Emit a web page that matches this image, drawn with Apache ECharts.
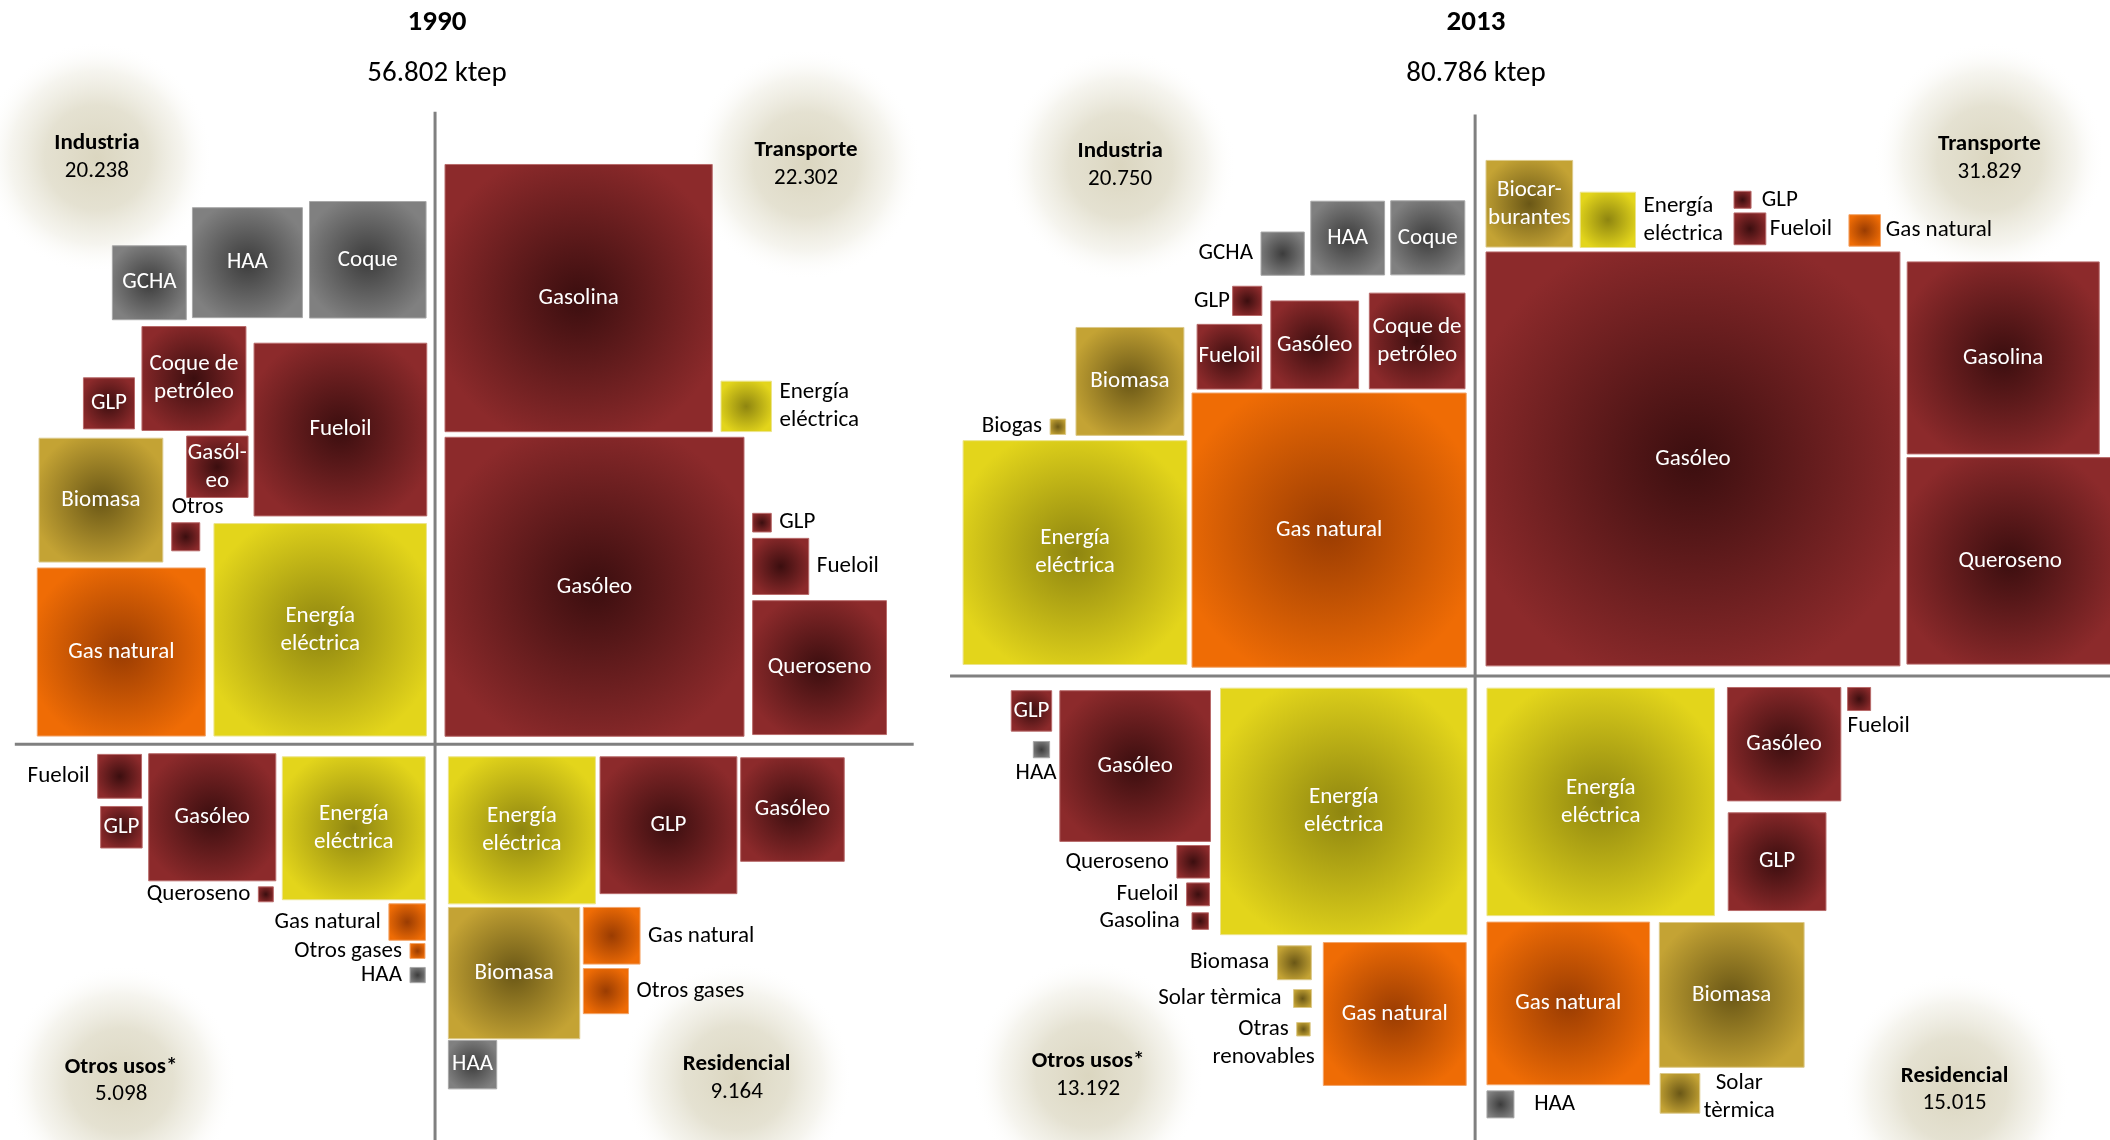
<!DOCTYPE html>
<html><head><meta charset="utf-8">
<script src="https://cdn.jsdelivr.net/npm/echarts@6/dist/echarts.min.js"></script>
<style>html,body{margin:0;padding:0;background:#fff}#c{width:2110px;height:1140px}</style>
</head><body><div id="c"></div>
<script>
// ================= DATA (ktep) =================
const years = ['1990', '2013'];
const sectors = ['Industria', 'Transporte', 'Otros usos*', 'Residencial'];

const ind1990Fuels = ['GCHA','HAA','Coque','Coque de petróleo','GLP','Fueloil','Gasóleo','Otros','Biomasa','Gas natural','Energía eléctrica'];
const ind1990Ktep  = [660, 1460, 1640, 1305, 315, 3600, 455, 95, 1850, 3410, 5448];

const tra1990Fuels = ['Gasolina','Gasóleo','Energía eléctrica','GLP','Fueloil','Queroseno'];
const tra1990Ktep  = [8620, 10790, 307, 42, 380, 2163];

const otr1990Fuels = ['Fueloil','GLP','Gasóleo','Queroseno','Energía eléctrica','Gas natural','Otros gases','HAA'];
const otr1990Ktep  = [232, 208, 1950, 27, 2465, 161, 27, 28];

const res1990Fuels = ['Energía eléctrica','GLP','Gasóleo','Biomasa','Gas natural','Otros gases','HAA'];
const res1990Ktep  = [2610, 2260, 1295, 2083, 388, 246, 282];

const ind2013Fuels = ['GCHA','HAA','Coque','GLP','Fueloil','Gasóleo','Coque de petróleo','Gas natural','Biomasa','Biogas','Energía eléctrica'];
const ind2013Ktep  = [226, 657, 662, 103, 506, 930, 1105, 9077, 1406, 29, 6049];

const tra2013Fuels = ['Biocarburantes','Energía eléctrica','GLP','Fueloil','Gas natural','Gasóleo','Gasolina','Queroseno'];
const tra2013Ktep  = [906, 369, 35, 122, 120, 20680, 4450, 5147];

const otr2013Fuels = ['GLP','HAA','Gasóleo','Queroseno','Fueloil','Gasolina','Energía eléctrica','Biomasa','Solar tèrmica','Otras renovables','Gas natural'];
const otr2013Ktep  = [197, 32, 2740, 128, 63, 33, 7335, 139, 39, 22, 2464];

const res2013Fuels = ['Energía eléctrica','Gasóleo','Fueloil','GLP','Gas natural','Biomasa','HAA','Solar tèrmica'];
const res2013Ktep  = [6245, 1552, 64, 1153, 3193, 2530, 88, 190];

// fuel -> colour family
const fuelFamily = {
  'Gasolina':'pet','Gasóleo':'pet','Fueloil':'pet','GLP':'pet','Queroseno':'pet','Coque de petróleo':'pet','Otros':'pet',
  'GCHA':'coal','HAA':'coal','Coque':'coal',
  'Energía eléctrica':'elec',
  'Biomasa':'ren','Biogas':'ren','Biocarburantes':'ren','Solar tèrmica':'ren','Otras renovables':'ren',
  'Gas natural':'gas','Otros gases':'gas'
};

// ================= LAYOUT (placement in a 1568 x 847 layout space) =================
const W = 1568, H = 847;
const AREA_PER_KTEP = 4.575; // square area (layout units²) per ktep
const ind1990Layout = [
  {at:[83.5,182.6]},{at:[143,154.3]},{at:[230,149.7]},{at:[105.5,242.6],t:'Coque de\npetróleo'},
  {at:[62,280.7]},{at:[188.8,255]},{at:[138.7,324],t:'Gasól-\neo'},{at:[127.6,388.4],lab:'tl'},
  {at:[29,325.6]},{at:[27.7,422]},{at:[159,389],t:'Energía\neléctrica'}
];
const tra1990Layout = [
  {at:[330.7,122.2]},{at:[330.7,324.9]},{at:[535.8,283.2],lab:'r',t:'Energía\neléctrica'},
  {at:[559.3,381.4],lab:'r'},{at:[559.3,400],lab:'r'},{at:[559.3,446.3]}
];
const otr1990Layout = [
  {at:[72.6,560.5],lab:'l'},{at:[74.8,599.2]},{at:[110.5,560]},{at:[192,658.9],lab:'l'},
  {at:[209.8,562.3],t:'Energía\neléctrica'},{at:[289,671.5],lab:'l'},{at:[304.7,701],lab:'l'},{at:[304.7,718.8],lab:'l'}
];
const res1990Layout = [
  {at:[333.2,562.3],t:'Energía\neléctrica'},{at:[445.9,562.3]},{at:[550.4,563]},{at:[333.2,674.2]},
  {at:[433.5,674.2],lab:'r'},{at:[433.5,719.6],lab:'r'},{at:[333.2,773.1]}
];
const ind2013Layout = [
  {at:[937.1,172.4],lab:'l'},{at:[974.1,149.5]},{at:[1033.5,149.2]},{at:[916,212.7],lab:'l',off:[4,0]},
  {at:[889.6,241]},{at:[944.4,223.6]},{at:[1017.6,217.8],t:'Coque de\npetróleo'},{at:[885.8,292]},
  {at:[799.6,243.3]},{at:[780.4,311.3],lab:'l'},{at:[715.7,327.4],t:'Energía\neléctrica'}
];
const tra2013Layout = [
  {at:[1104.3,119.2],t:'Biocar-\nburantes'},{at:[1174.3,142.8],lab:'r',t:'Energía\neléctrica'},
  {at:[1288.6,142.1],lab:'r',off:[2,0]},{at:[1288.6,158.2],lab:'r',off:[-3,0]},{at:[1374,159.5],lab:'r',off:[-2,0]},
  {at:[1104.3,187.2]},{at:[1417.3,194.6]},{at:[1417.1,340]}
];
const otr2013Layout = [
  {at:[751.5,513.2]},{at:[767.9,550.9],lab:'b',off:[-4,0]},{at:[787.6,513.2]},{at:[874.6,628.2],lab:'l'},
  {at:[881.8,656],lab:'l'},{at:[885.8,678.2],lab:'l',off:[-3,0]},{at:[907,511.3],t:'Energía\neléctrica'},
  {at:[949.3,702.7],lab:'l'},{at:[961.3,735.2],lab:'l',off:[-3,0]},
  {at:[963.6,759.7],lab:'l',ta:'center',off:[-18.6,10.3],t:'Otras\nrenovables'},{at:[983.4,700.3]}
];
const res2013Layout = [
  {at:[1105,511.3],t:'Energía\neléctrica'},{at:[1283.7,510.8]},{at:[1373,510.8],lab:'bl'},{at:[1284.3,603.9]},
  {at:[1105,685.1]},{at:[1233.1,685.4]},{at:[1105,810.5],lab:'r',off:[9,0]},
  {at:[1233.7,797.6],lab:'r',ta:'center',off:[23.3,3],t:'Solar\ntèrmica'}
];
// sector badge centres
const sectorAnchors = {
  '1990': [[72,117],[599,122],[90,803],[547.4,801]],
  '2013': [[832.4,123],[1478.4,117.6],[808.6,799],[1452.5,809.6]]
};
// quadrant axes per year: vertical [x, y0, y1], horizontal [y, x0, x1]
const panelAxes = {
  '1990': {v:[323.3,83,H], h:[553,11,679], title:432},
  '2013': {v:[1096.2,85,H], h:[502.2,706,W], title:1471}
};

const FONT = 'Carlito, Calibri, Lato, sans-serif';
const FS = 23;
const FAM = {
  pet:  {c:'#3b0e0f', e:'#8c2a2b', s:'#b86a6a'},
  coal: {c:'#3c3c3c', e:'#808080', s:'#a8a8a8'},
  elec: {c:'#8e8510', e:'#e3d51b', s:'#ece48a'},
  ren:  {c:'#6a5716', e:'#c4a334', s:'#dcc98a'},
  gas:  {c:'#9a3c02', e:'#ef6c05', s:'#f3a56a'}
};

// ================= BUILD =================
const groups = [
  {y:'1990', s:0, f:ind1990Fuels, k:ind1990Ktep, L:ind1990Layout},
  {y:'1990', s:1, f:tra1990Fuels, k:tra1990Ktep, L:tra1990Layout},
  {y:'1990', s:2, f:otr1990Fuels, k:otr1990Ktep, L:otr1990Layout},
  {y:'1990', s:3, f:res1990Fuels, k:res1990Ktep, L:res1990Layout},
  {y:'2013', s:0, f:ind2013Fuels, k:ind2013Ktep, L:ind2013Layout},
  {y:'2013', s:1, f:tra2013Fuels, k:tra2013Ktep, L:tra2013Layout},
  {y:'2013', s:2, f:otr2013Fuels, k:otr2013Ktep, L:otr2013Layout},
  {y:'2013', s:3, f:res2013Fuels, k:res2013Ktep, L:res2013Layout}
];
const fmt = n => String(Math.round(n)).replace(/\B(?=(\d{3})+(?!\d))/g, '.');
const sum = a => a.reduce((p, c) => p + c, 0);

const items = [];
groups.forEach(g => g.f.forEach((fuel, i) => items.push({fuel, v:g.k[i], L:g.L[i]})));
const badges = groups.map(g => ({name:sectors[g.s], total:sum(g.k), at:sectorAnchors[g.y][g.s]}));
const yearTotal = y => sum(groups.filter(g => g.y === y).map(g => sum(g.k)));

const GAP = 6;
function renderSquare(params, api) {
  const it = items[params.dataIndex];
  const side = Math.sqrt(api.value(2) * AREA_PER_KTEP);
  const p = api.coord([api.value(0), api.value(1)]);
  const s = api.size([1, 0])[0];
  const w = side * s;
  const fam = FAM[fuelFamily[it.fuel]];
  const L = it.L, mode = L.lab || 'in', off = L.off || [0, 0];
  const cx = p[0] + w / 2, cy = p[1] + w / 2;
  let x, y, align, va, fill = '#000';
  if (mode === 'in') { x = cx; y = cy; align = 'center'; va = 'middle'; fill = '#fff'; }
  else if (mode === 'l') { x = p[0] - GAP * s; y = cy; align = 'right'; va = 'middle'; }
  else if (mode === 'r') { x = p[0] + w + GAP * s; y = cy; align = 'left'; va = 'middle'; }
  else if (mode === 'tl') { x = p[0]; y = p[1] - 1 * s; align = 'left'; va = 'bottom'; }
  else if (mode === 'b') { x = cx; y = p[1] + w + 1 * s; align = 'center'; va = 'top'; }
  else if (mode === 'bl') { x = p[0]; y = p[1] + w + 1 * s; align = 'left'; va = 'top'; }
  return {
    type: 'group',
    children: [
      { type: 'rect', shape: {x: p[0], y: p[1], width: w, height: w},
        style: { fill: {type:'radial', x:0.5, y:0.5, r:0.56,
                        colorStops:[{offset:0, color:fam.c}, {offset:1, color:fam.e}]},
                 stroke: fam.s, lineWidth: 1 } },
      { type: 'text', z2: 10,
        style: { text: L.t || it.fuel, x: x + off[0] * s, y: y + off[1] * s, fill,
                 align: L.ta || align, verticalAlign: va,
                 fontSize: FS, fontFamily: FONT, lineHeight: 28 } }
    ]
  };
}

function renderBadge(params, api) {
  const b = badges[params.dataIndex];
  const p = api.coord([api.value(0), api.value(1)]);
  const s = api.size([1, 0])[0];
  return {
    type: 'group',
    children: [
      { type: 'circle', shape: {cx: p[0], cy: p[1], r: 86 * s},
        style: { fill: {type:'radial', x:0.5, y:0.5, r:0.5, colorStops:[
          {offset:0, color:'rgba(219,214,192,1)'},
          {offset:0.45, color:'rgba(222,218,198,0.8)'},
          {offset:0.75, color:'rgba(228,225,208,0.35)'},
          {offset:1, color:'rgba(255,255,255,0)'}]} } },
      { type: 'text', style: { text: b.name, x: p[0], y: p[1] - 10.3 * s, align:'center', verticalAlign:'middle',
          fill:'#000', fontSize: FS, fontWeight: 'bold', fontFamily: FONT } },
      { type: 'text', style: { text: fmt(api.value(2)), x: p[0], y: p[1] + 10.3 * s, align:'center', verticalAlign:'middle',
          fill:'#000', fontSize: FS, fontFamily: FONT } }
    ]
  };
}

const axisSegs = [];
years.forEach(y => {
  const a = panelAxes[y];
  axisSegs.push([a.v[0], a.v[1], a.v[0], a.v[2]]);
  axisSegs.push([a.h[1], a.h[0], a.h[2], a.h[0]]);
});
function renderAxis(params, api) {
  const p0 = api.coord([api.value(0), api.value(1)]);
  const p1 = api.coord([api.value(2), api.value(3)]);
  return { type: 'line', shape: {x1:p0[0], y1:p0[1], x2:p1[0], y2:p1[1]},
           style: {stroke:'#808080', lineWidth: 3} };
}

const chart = echarts.init(document.getElementById('c'), null, {renderer:'canvas'});
chart.setOption({
  animation: false,
  backgroundColor: '#fff',
  title: years.map(y => ({
    text: y, subtext: fmt(yearTotal(y)) + ' ktep',
    left: panelAxes[y].title, top: 3, textAlign: 'center', itemGap: 22,
    textStyle: {fontSize: 29, fontWeight: 'bold', color: '#000', fontFamily: FONT},
    subtextStyle: {fontSize: 29, color: '#000', fontFamily: FONT}
  })),
  grid: {left: 0, right: 0, top: 0, bottom: 0},
  xAxis: {type: 'value', min: 0, max: W, show: false},
  yAxis: {type: 'value', min: 0, max: H, inverse: true, show: false},
  series: [
    { type: 'custom', name: 'sectores', z: 1, renderItem: renderBadge,
      data: badges.map(b => [b.at[0], b.at[1], b.total]) },
    { type: 'custom', name: 'ejes', z: 2, renderItem: renderAxis, data: axisSegs },
    { type: 'custom', name: 'consumo', z: 3, renderItem: renderSquare,
      data: items.map(it => [it.L.at[0], it.L.at[1], it.v]) }
  ]
});
</script>
</body></html>
